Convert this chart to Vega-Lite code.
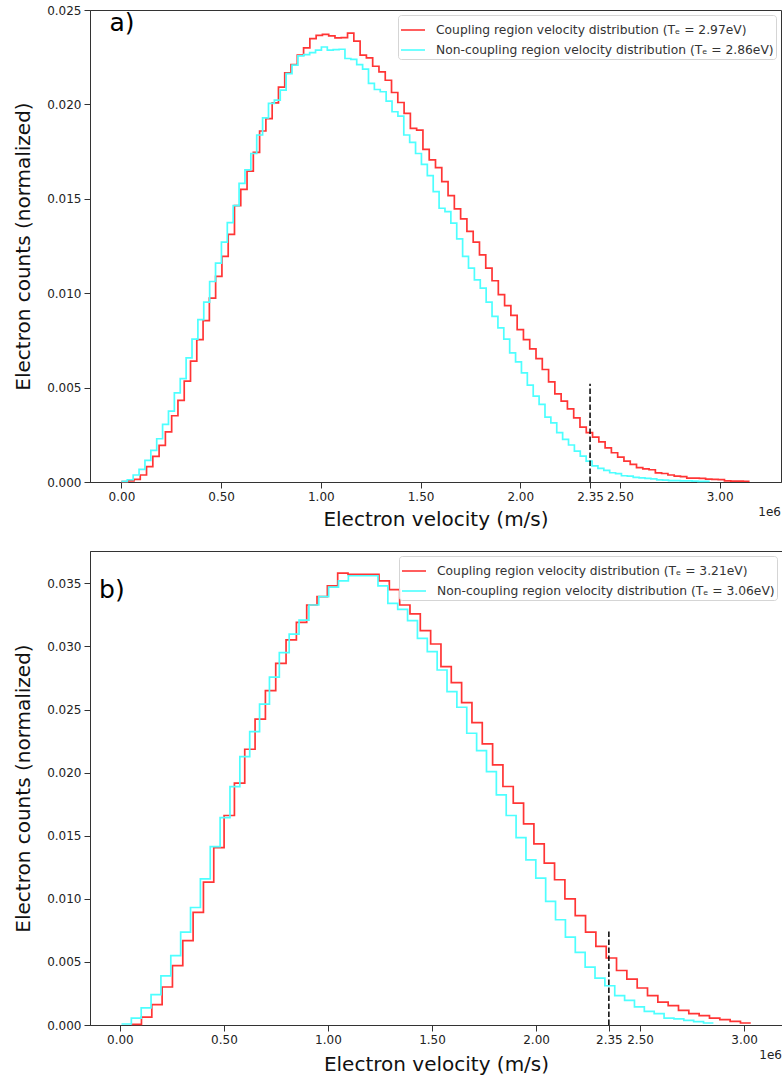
{
"$schema": "https://vega.github.io/schema/vega-lite/v6.json",
"padding": {"left": 13, "top": 3, "right": 0, "bottom": 2},
"spacing": 20,
"config": {
 "font": "DejaVu Sans",
 "view": {"stroke": "#333", "strokeWidth": 1},
 "axis": {"grid": false, "domainColor": "#333", "tickColor": "#333", "labelColor": "#222", "labelFont": "DejaVu Sans", "labelFontSize": 12, "titleFont": "DejaVu Sans", "titleFontSize": 20, "titleFontWeight": "normal", "titleColor": "#111", "tickSize": 6, "labelPadding": 3, "labelFlush": false, "labelOverlap": false},
 "legend": {"orient": "top-right", "offset": 5, "title": null, "symbolType": "stroke", "symbolSize": 576, "symbolStrokeWidth": 1.6, "labelFont": "DejaVu Sans", "labelFontSize": 12.3, "labelColor": "#333", "strokeColor": "#d5d5d5", "fillColor": "rgba(255,255,255,0.85)", "cornerRadius": 3, "padding": 2, "rowPadding": 0, "labelLimit": 600, "labelOffset": 10}
},
"resolve": {"scale": {"color": "independent", "x": "independent", "y": "independent"}, "legend": {"color": "independent"}},
"datasets": {
 "ar": [
{"s":"r","v":0,"c":0.00002},{"s":"r","v":0.0315,"c":0.00006},{"s":"r","v":0.063,"c":0.00014},{"s":"r","v":0.0945,"c":0.00037},{"s":"r","v":0.126,"c":0.00081},{"s":"r","v":0.1575,"c":0.00136},{"s":"r","v":0.189,"c":0.00194},{"s":"r","v":0.2205,"c":0.00266},{"s":"r","v":0.252,"c":0.00351},{"s":"r","v":0.2835,"c":0.00432},
{"s":"r","v":0.315,"c":0.00534},{"s":"r","v":0.3465,"c":0.0064},{"s":"r","v":0.378,"c":0.00754},{"s":"r","v":0.4095,"c":0.00855},{"s":"r","v":0.441,"c":0.00974},{"s":"r","v":0.4725,"c":0.01089},{"s":"r","v":0.504,"c":0.01195},{"s":"r","v":0.5355,"c":0.01312},{"s":"r","v":0.567,"c":0.01464},{"s":"r","v":0.5985,"c":0.0155},
{"s":"r","v":0.63,"c":0.01647},{"s":"r","v":0.6615,"c":0.01746},{"s":"r","v":0.693,"c":0.01859},{"s":"r","v":0.7245,"c":0.01925},{"s":"r","v":0.756,"c":0.02008},{"s":"r","v":0.7875,"c":0.02091},{"s":"r","v":0.819,"c":0.02167},{"s":"r","v":0.8505,"c":0.02211},{"s":"r","v":0.882,"c":0.02261},{"s":"r","v":0.9135,"c":0.02299},
{"s":"r","v":0.945,"c":0.02348},{"s":"r","v":0.9765,"c":0.02366},{"s":"r","v":1.008,"c":0.02371},{"s":"r","v":1.0395,"c":0.02363},{"s":"r","v":1.071,"c":0.02352},{"s":"r","v":1.1025,"c":0.02354},{"s":"r","v":1.134,"c":0.02378},{"s":"r","v":1.1655,"c":0.02335},{"s":"r","v":1.197,"c":0.02261},{"s":"r","v":1.2285,"c":0.02246},
{"s":"r","v":1.26,"c":0.02202},{"s":"r","v":1.2915,"c":0.02172},{"s":"r","v":1.323,"c":0.02128},{"s":"r","v":1.3545,"c":0.02063},{"s":"r","v":1.386,"c":0.0201},{"s":"r","v":1.4175,"c":0.01952},{"s":"r","v":1.449,"c":0.01873},{"s":"r","v":1.4805,"c":0.01864},{"s":"r","v":1.512,"c":0.01762},{"s":"r","v":1.5435,"c":0.01706},
{"s":"r","v":1.575,"c":0.01665},{"s":"r","v":1.6065,"c":0.01591},{"s":"r","v":1.638,"c":0.01517},{"s":"r","v":1.6695,"c":0.01447},{"s":"r","v":1.701,"c":0.01394},{"s":"r","v":1.7325,"c":0.01327},{"s":"r","v":1.764,"c":0.0127},{"s":"r","v":1.7955,"c":0.01203},{"s":"r","v":1.827,"c":0.01133},{"s":"r","v":1.8585,"c":0.01066},
{"s":"r","v":1.89,"c":0.00992},{"s":"r","v":1.9215,"c":0.00934},{"s":"r","v":1.953,"c":0.00883},{"s":"r","v":1.9845,"c":0.00807},{"s":"r","v":2.016,"c":0.00754},{"s":"r","v":2.0475,"c":0.00705},{"s":"r","v":2.079,"c":0.00654},{"s":"r","v":2.1105,"c":0.00596},{"s":"r","v":2.142,"c":0.0053},{"s":"r","v":2.1735,"c":0.00467},
{"s":"r","v":2.205,"c":0.00428},{"s":"r","v":2.2365,"c":0.00387},{"s":"r","v":2.268,"c":0.0034},{"s":"r","v":2.2995,"c":0.00291},{"s":"r","v":2.331,"c":0.00261},{"s":"r","v":2.3625,"c":0.00238},{"s":"r","v":2.394,"c":0.00213},{"s":"r","v":2.4255,"c":0.00181},{"s":"r","v":2.457,"c":0.00155},{"s":"r","v":2.4885,"c":0.00132},
{"s":"r","v":2.52,"c":0.00111},{"s":"r","v":2.5515,"c":0.00093},{"s":"r","v":2.583,"c":0.00076},{"s":"r","v":2.6145,"c":0.00069},{"s":"r","v":2.646,"c":0.00065},{"s":"r","v":2.6775,"c":0.00048},{"s":"r","v":2.709,"c":0.00045},{"s":"r","v":2.7405,"c":0.00037},{"s":"r","v":2.772,"c":0.00031},{"s":"r","v":2.8035,"c":0.00029},
{"s":"r","v":2.835,"c":0.00021},{"s":"r","v":2.8665,"c":0.0002},{"s":"r","v":2.898,"c":0.00019},{"s":"r","v":2.9295,"c":0.00015},{"s":"r","v":2.961,"c":0.00014},{"s":"r","v":2.9925,"c":0.00013},{"s":"r","v":3.024,"c":0.00006},{"s":"r","v":3.0555,"c":0.00005},{"s":"r","v":3.087,"c":0.00005},{"s":"r","v":3.1185,"c":0.00004},
{"s":"r","v":3.15,"c":0.00004}
 ],
 "ac": [
{"s":"c","v":0,"c":0.00003},{"s":"c","v":0.0295,"c":0.00012},{"s":"c","v":0.059,"c":0.00037},{"s":"c","v":0.0885,"c":0.00067},{"s":"c","v":0.118,"c":0.00115},{"s":"c","v":0.1475,"c":0.00168},{"s":"c","v":0.177,"c":0.00229},{"s":"c","v":0.2065,"c":0.00305},{"s":"c","v":0.236,"c":0.00375},{"s":"c","v":0.2655,"c":0.00472},
{"s":"c","v":0.295,"c":0.00548},{"s":"c","v":0.3245,"c":0.00657},{"s":"c","v":0.354,"c":0.00757},{"s":"c","v":0.3835,"c":0.0086},{"s":"c","v":0.413,"c":0.00953},{"s":"c","v":0.4425,"c":0.01062},{"s":"c","v":0.472,"c":0.01159},{"s":"c","v":0.5015,"c":0.0127},{"s":"c","v":0.531,"c":0.01374},{"s":"c","v":0.5605,"c":0.01464},
{"s":"c","v":0.59,"c":0.01582},{"s":"c","v":0.6195,"c":0.01653},{"s":"c","v":0.649,"c":0.0174},{"s":"c","v":0.6785,"c":0.01838},{"s":"c","v":0.708,"c":0.01929},{"s":"c","v":0.7375,"c":0.02005},{"s":"c","v":0.767,"c":0.02023},{"s":"c","v":0.7965,"c":0.02076},{"s":"c","v":0.826,"c":0.02163},{"s":"c","v":0.8555,"c":0.02208},
{"s":"c","v":0.885,"c":0.02257},{"s":"c","v":0.9145,"c":0.02264},{"s":"c","v":0.944,"c":0.02274},{"s":"c","v":0.9735,"c":0.02287},{"s":"c","v":1.003,"c":0.02304},{"s":"c","v":1.0325,"c":0.02287},{"s":"c","v":1.062,"c":0.0229},{"s":"c","v":1.0915,"c":0.02292},{"s":"c","v":1.121,"c":0.02243},{"s":"c","v":1.1505,"c":0.02239},
{"s":"c","v":1.18,"c":0.02211},{"s":"c","v":1.2095,"c":0.02187},{"s":"c","v":1.239,"c":0.02111},{"s":"c","v":1.2685,"c":0.02079},{"s":"c","v":1.298,"c":0.02067},{"s":"c","v":1.3275,"c":0.02017},{"s":"c","v":1.357,"c":0.01961},{"s":"c","v":1.3865,"c":0.01938},{"s":"c","v":1.416,"c":0.01838},{"s":"c","v":1.4455,"c":0.01799},
{"s":"c","v":1.475,"c":0.0174},{"s":"c","v":1.5045,"c":0.01682},{"s":"c","v":1.534,"c":0.01623},{"s":"c","v":1.5635,"c":0.01538},{"s":"c","v":1.593,"c":0.0145},{"s":"c","v":1.6225,"c":0.01432},{"s":"c","v":1.652,"c":0.01371},{"s":"c","v":1.6815,"c":0.01288},{"s":"c","v":1.711,"c":0.01195},{"s":"c","v":1.7405,"c":0.01133},
{"s":"c","v":1.77,"c":0.01071},{"s":"c","v":1.7995,"c":0.01027},{"s":"c","v":1.829,"c":0.00953},{"s":"c","v":1.8585,"c":0.00877},{"s":"c","v":1.888,"c":0.00816},{"s":"c","v":1.9175,"c":0.00757},{"s":"c","v":1.947,"c":0.00684},{"s":"c","v":1.9765,"c":0.00636},{"s":"c","v":2.006,"c":0.00578},{"s":"c","v":2.0355,"c":0.00513},
{"s":"c","v":2.065,"c":0.00455},{"s":"c","v":2.0945,"c":0.00411},{"s":"c","v":2.124,"c":0.00344},{"s":"c","v":2.1535,"c":0.00313},{"s":"c","v":2.183,"c":0.00261},{"s":"c","v":2.2125,"c":0.00226},{"s":"c","v":2.242,"c":0.00196},{"s":"c","v":2.2715,"c":0.00164},{"s":"c","v":2.301,"c":0.00137},{"s":"c","v":2.3305,"c":0.00111},
{"s":"c","v":2.36,"c":0.00085},{"s":"c","v":2.3895,"c":0.00072},{"s":"c","v":2.419,"c":0.00062},{"s":"c","v":2.4485,"c":0.00049},{"s":"c","v":2.478,"c":0.00044},{"s":"c","v":2.5075,"c":0.00033},{"s":"c","v":2.537,"c":0.00031},{"s":"c","v":2.5665,"c":0.00024},{"s":"c","v":2.596,"c":0.00022},{"s":"c","v":2.6255,"c":0.00019},
{"s":"c","v":2.655,"c":0.00017},{"s":"c","v":2.6845,"c":0.00011},{"s":"c","v":2.714,"c":0.0001},{"s":"c","v":2.7435,"c":0.00007},{"s":"c","v":2.773,"c":0.00007},{"s":"c","v":2.8025,"c":0.00006},{"s":"c","v":2.832,"c":0.00006},{"s":"c","v":2.8615,"c":0.00005},{"s":"c","v":2.891,"c":0.00003},{"s":"c","v":2.9205,"c":0.00003},
{"s":"c","v":2.95,"c":0.00003}
 ],
 "br": [
{"s":"r","v":0.0542,"c":0.00005},{"s":"r","v":0.1038,"c":0.00063},{"s":"r","v":0.1535,"c":0.00161},{"s":"r","v":0.2031,"c":0.00301},{"s":"r","v":0.2527,"c":0.0047},{"s":"r","v":0.3024,"c":0.00668},{"s":"r","v":0.352,"c":0.00892},{"s":"r","v":0.4016,"c":0.01132},{"s":"r","v":0.4512,"c":0.01406},{"s":"r","v":0.5009,"c":0.0166},
{"s":"r","v":0.5505,"c":0.01916},{"s":"r","v":0.6001,"c":0.02185},{"s":"r","v":0.6498,"c":0.02423},{"s":"r","v":0.6994,"c":0.0265},{"s":"r","v":0.749,"c":0.02866},{"s":"r","v":0.7987,"c":0.03051},{"s":"r","v":0.8483,"c":0.03191},{"s":"r","v":0.8979,"c":0.03328},{"s":"r","v":0.9475,"c":0.03394},{"s":"r","v":0.9972,"c":0.0348},
{"s":"r","v":1.0468,"c":0.0358},{"s":"r","v":1.0964,"c":0.0357},{"s":"r","v":1.1461,"c":0.0357},{"s":"r","v":1.1957,"c":0.0357},{"s":"r","v":1.2453,"c":0.0352},{"s":"r","v":1.295,"c":0.0345},{"s":"r","v":1.3446,"c":0.03328},{"s":"r","v":1.3942,"c":0.03257},{"s":"r","v":1.4438,"c":0.03125},{"s":"r","v":1.4935,"c":0.03019},
{"s":"r","v":1.5431,"c":0.02839},{"s":"r","v":1.5927,"c":0.02713},{"s":"r","v":1.6424,"c":0.02555},{"s":"r","v":1.692,"c":0.02396},{"s":"r","v":1.7416,"c":0.02227},{"s":"r","v":1.7913,"c":0.02061},{"s":"r","v":1.8409,"c":0.0189},{"s":"r","v":1.8905,"c":0.01758},{"s":"r","v":1.9401,"c":0.01594},{"s":"r","v":1.9898,"c":0.01436},
{"s":"r","v":2.0394,"c":0.01283},{"s":"r","v":2.089,"c":0.01151},{"s":"r","v":2.1387,"c":0.01},{"s":"r","v":2.1883,"c":0.00866},{"s":"r","v":2.2379,"c":0.00736},{"s":"r","v":2.2876,"c":0.00623},{"s":"r","v":2.3372,"c":0.00531},{"s":"r","v":2.3868,"c":0.00432},{"s":"r","v":2.4364,"c":0.00364},{"s":"r","v":2.4861,"c":0.00293},
{"s":"r","v":2.5357,"c":0.00232},{"s":"r","v":2.5853,"c":0.00182},{"s":"r","v":2.635,"c":0.00153},{"s":"r","v":2.6846,"c":0.00116},{"s":"r","v":2.7342,"c":0.0009},{"s":"r","v":2.7839,"c":0.00074},{"s":"r","v":2.8335,"c":0.00055},{"s":"r","v":2.8831,"c":0.00042},{"s":"r","v":2.9327,"c":0.00029},{"s":"r","v":2.9824,"c":0.00016},
{"s":"r","v":3.032,"c":0.00016}
 ],
 "bc": [
{"s":"c","v":0.0077,"c":0.00008},{"s":"c","v":0.0551,"c":0.00055},{"s":"c","v":0.1025,"c":0.00135},{"s":"c","v":0.1499,"c":0.0024},{"s":"c","v":0.1973,"c":0.0039},{"s":"c","v":0.2448,"c":0.00549},{"s":"c","v":0.2922,"c":0.00736},{"s":"c","v":0.3396,"c":0.00931},{"s":"c","v":0.387,"c":0.01158},{"s":"c","v":0.4344,"c":0.01414},
{"s":"c","v":0.4818,"c":0.01644},{"s":"c","v":0.5292,"c":0.01889},{"s":"c","v":0.5766,"c":0.02127},{"s":"c","v":0.624,"c":0.02325},{"s":"c","v":0.6714,"c":0.02542},{"s":"c","v":0.7189,"c":0.02756},{"s":"c","v":0.7663,"c":0.0295},{"s":"c","v":0.8137,"c":0.03098},{"s":"c","v":0.8611,"c":0.03209},{"s":"c","v":0.9085,"c":0.03328},
{"s":"c","v":0.9559,"c":0.03394},{"s":"c","v":1.0033,"c":0.0347},{"s":"c","v":1.0507,"c":0.0352},{"s":"c","v":1.0981,"c":0.0356},{"s":"c","v":1.1455,"c":0.0356},{"s":"c","v":1.193,"c":0.0356},{"s":"c","v":1.2404,"c":0.0348},{"s":"c","v":1.2878,"c":0.03341},{"s":"c","v":1.3352,"c":0.03294},{"s":"c","v":1.3826,"c":0.03204},
{"s":"c","v":1.43,"c":0.03064},{"s":"c","v":1.4774,"c":0.02958},{"s":"c","v":1.5248,"c":0.02813},{"s":"c","v":1.5722,"c":0.02642},{"s":"c","v":1.6196,"c":0.02518},{"s":"c","v":1.6671,"c":0.02312},{"s":"c","v":1.7145,"c":0.02174},{"s":"c","v":1.7619,"c":0.02008},{"s":"c","v":1.8093,"c":0.01824},{"s":"c","v":1.8567,"c":0.0166},
{"s":"c","v":1.9041,"c":0.01485},{"s":"c","v":1.9515,"c":0.01309},{"s":"c","v":1.9989,"c":0.01164},{"s":"c","v":2.0463,"c":0.00979},{"s":"c","v":2.0937,"c":0.00834},{"s":"c","v":2.1412,"c":0.00697},{"s":"c","v":2.1886,"c":0.00575},{"s":"c","v":2.236,"c":0.00459},{"s":"c","v":2.2834,"c":0.00372},{"s":"c","v":2.3308,"c":0.00311},
{"s":"c","v":2.3782,"c":0.00232},{"s":"c","v":2.4256,"c":0.00195},{"s":"c","v":2.473,"c":0.00143},{"s":"c","v":2.5204,"c":0.00108},{"s":"c","v":2.5678,"c":0.0009},{"s":"c","v":2.6153,"c":0.00055},{"s":"c","v":2.6627,"c":0.00048},{"s":"c","v":2.7101,"c":0.00037},{"s":"c","v":2.7575,"c":0.00026},{"s":"c","v":2.8049,"c":0.00016},
{"s":"c","v":2.8523,"c":0.00016}
 ]
},
"vconcat": [
 {
  "width": 691, "height": 472,
  "layer": [
   {"data": {"name": "ar"}, "mark": {"type": "line", "interpolate": "step-after", "strokeWidth": 1.7},
    "encoding": {
     "x": {"field": "v", "type": "quantitative", "scale": {"domain": [-0.1575, 3.3075], "nice": false, "zero": false}, "axis": {"values": [0, 0.5, 1, 1.5, 2, 2.35, 2.5, 3], "format": ".2f", "title": "Electron velocity (m/s)", "titlePadding": 7}},
     "y": {"field": "c", "type": "quantitative", "scale": {"domain": [0, 0.025], "nice": false}, "axis": {"values": [0, 0.005, 0.01, 0.015, 0.02, 0.025], "format": ".3f", "title": "Electron counts (normalized)", "titlePadding": 13}},
     "color": {"field": "s", "type": "nominal", "scale": {"domain": ["r", "c"], "range": ["#ff3535", "#4dffff"]}, "legend": {"labelExpr": "datum.value == 'r' ? 'Coupling region velocity distribution (Tₑ = 2.97eV)' : 'Non-coupling region velocity distribution (Tₑ = 2.86eV)'"}}
    }},
   {"data": {"name": "ac"}, "mark": {"type": "line", "interpolate": "step-after", "strokeWidth": 1.7},
    "encoding": {
     "x": {"field": "v", "type": "quantitative"},
     "y": {"field": "c", "type": "quantitative"},
     "color": {"field": "s", "type": "nominal"}
    }},
   {"data": {"values": [{}]}, "mark": {"type": "rule", "strokeDash": [5.5, 2.5], "color": "black", "strokeWidth": 1.5},
    "encoding": {"x": {"datum": 2.35}, "y": {"datum": 0}, "y2": {"datum": 0.0052}}},
   {"data": {"values": [{}]}, "mark": {"type": "text", "fontSize": 25, "align": "left", "baseline": "middle", "color": "black"},
    "encoding": {"x": {"datum": -0.06}, "y": {"datum": 0.0243}, "text": {"value": "a)"}}},
   {"data": {"values": [{}]}, "mark": {"type": "text", "fontSize": 12, "align": "right", "baseline": "top", "dy": 25, "color": "#222"},
    "encoding": {"x": {"datum": 3.3075}, "y": {"datum": 0}, "text": {"value": "1e6"}}}
  ]
 },
 {
  "width": 692, "height": 474,
  "layer": [
   {"data": {"name": "br"}, "mark": {"type": "line", "interpolate": "step-after", "strokeWidth": 1.7},
    "encoding": {
     "x": {"field": "v", "type": "quantitative", "scale": {"domain": [-0.1435, 3.182], "nice": false, "zero": false}, "axis": {"values": [0, 0.5, 1, 1.5, 2, 2.35, 2.5, 3], "format": ".2f", "title": "Electron velocity (m/s)", "titlePadding": 9}},
     "y": {"field": "c", "type": "quantitative", "scale": {"domain": [0, 0.03756], "nice": false}, "axis": {"values": [0, 0.005, 0.01, 0.015, 0.02, 0.025, 0.03, 0.035], "format": ".3f", "title": "Electron counts (normalized)", "titlePadding": 13}},
     "color": {"field": "s", "type": "nominal", "scale": {"domain": ["r", "c"], "range": ["#ff3535", "#4dffff"]}, "legend": {"labelExpr": "datum.value == 'r' ? 'Coupling region velocity distribution (Tₑ = 3.21eV)' : 'Non-coupling region velocity distribution (Tₑ = 3.06eV)'"}}
    }},
   {"data": {"name": "bc"}, "mark": {"type": "line", "interpolate": "step-after", "strokeWidth": 1.7},
    "encoding": {
     "x": {"field": "v", "type": "quantitative"},
     "y": {"field": "c", "type": "quantitative"},
     "color": {"field": "s", "type": "nominal"}
    }},
   {"data": {"values": [{}]}, "mark": {"type": "rule", "strokeDash": [5.5, 2.5], "color": "black", "strokeWidth": 1.5},
    "encoding": {"x": {"datum": 2.35}, "y": {"datum": 0}, "y2": {"datum": 0.0075}}},
   {"data": {"values": [{}]}, "mark": {"type": "text", "fontSize": 25, "align": "left", "baseline": "middle", "color": "black"},
    "encoding": {"x": {"datum": -0.1}, "y": {"datum": 0.0345}, "text": {"value": "b)"}}},
   {"data": {"values": [{}]}, "mark": {"type": "text", "fontSize": 12, "align": "right", "baseline": "top", "dy": 25, "color": "#222"},
    "encoding": {"x": {"datum": 3.182}, "y": {"datum": 0}, "text": {"value": "1e6"}}}
  ]
 }
]
}
